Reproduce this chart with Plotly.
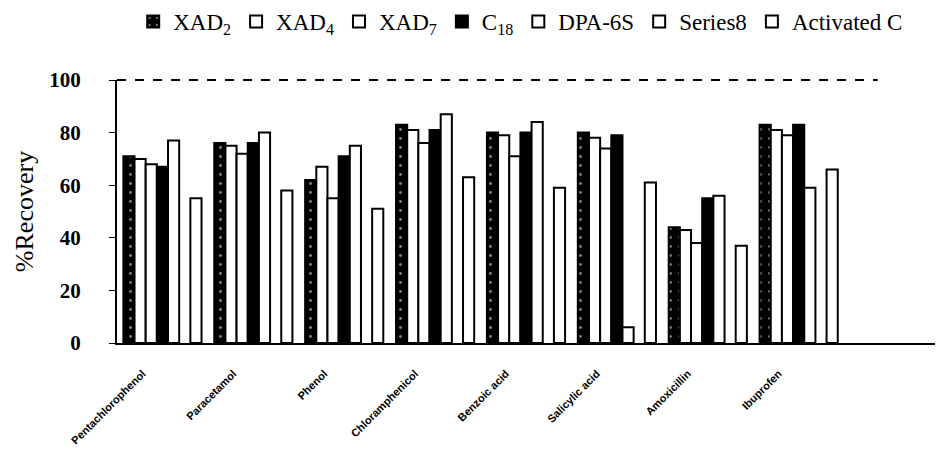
import plotly.graph_objects as go

# Recovery (%) of each analyte on each sorbent
analytes = ["Pentachlorophenol", "Paracetamol", "Phenol", "Chloramphenicol",
            "Benzoic acid", "Salicylic acid", "Amoxicillin", "Ibuprofen"]

xad2 = [71, 76, 62, 83, 80, 80, 44, 83]
xad4 = [70, 75, 67, 81, 79, 78, 43, 81]
xad7 = [68, 72, 55, 76, 71, 74, 38, 79]
c18 = [67, 76, 71, 81, 80, 79, 55, 83]
dpa6s = [77, 80, 75, 87, 84, 6, 56, 59]
series8 = [None] * 8
activated_c = [55, 58, 51, 63, 59, 61, 37, 66]

series = [
    ("XAD<sub>2</sub>", xad2, "black", True),
    ("XAD<sub>4</sub>", xad4, "white", False),
    ("XAD<sub>7</sub>", xad7, "white", False),
    ("C<sub>18</sub>", c18, "black", False),
    ("DPA-6S", dpa6s, "white", False),
    ("Series8", series8, "white", False),
    ("Activated C", activated_c, "white", False),
]

y_ticks = [0, 20, 40, 60, 80, 100]

fig = go.Figure()
for name, vals, fill, speckled in series:
    marker = dict(color=fill, line=dict(color="black", width=2))
    if speckled:
        marker["pattern"] = dict(shape=".", fgcolor="white", bgcolor="black",
                                 size=9, solidity=0.08)
    fig.add_trace(go.Bar(name=name, x=analytes, y=vals, marker=marker))

fig.update_layout(
    width=938, height=460,
    margin=dict(l=117, r=3, t=80, b=117),
    paper_bgcolor="white", plot_bgcolor="white",
    barmode="group", bargap=0.14, bargroupgap=0,
    font=dict(family="Liberation Serif", color="black"),
    legend=dict(
        orientation="h", xref="container", yref="container",
        x=0.142, xanchor="left", y=1.0, yanchor="top",
        font=dict(family="Liberation Serif", size=23, color="black"),
        itemwidth=30, tracegroupgap=0,
    ),
    xaxis=dict(
        range=[-0.5, 8.5], showline=True, linecolor="black", linewidth=2,
        ticks="", tickangle=-45, ticklabelshift=-20, ticklabelstandoff=18,
        tickfont=dict(family="Liberation Sans", size=11, weight="bold", color="black"),
        showgrid=False, zeroline=False,
    ),
    yaxis=dict(
        range=[0, 100], tickvals=y_ticks, showline=True, linecolor="black", linewidth=2,
        ticks="outside", ticklen=6, tickwidth=1, tickcolor="black",
        ticklabelstandoff=24,
        tickfont=dict(family="Liberation Serif", size=21, weight="bold", color="black"),
        title=dict(text="%Recovery", standoff=8,
                   font=dict(family="Liberation Serif", size=26, color="black")),
        showgrid=False, zeroline=False,
    ),
)

# dashed upper frame of the plot box
fig.add_shape(type="line", xref="paper", yref="paper", x0=0, x1=0.93, y0=1, y1=1,
              line=dict(color="black", width=2, dash="dash"))

fig.write_html("out.html")
